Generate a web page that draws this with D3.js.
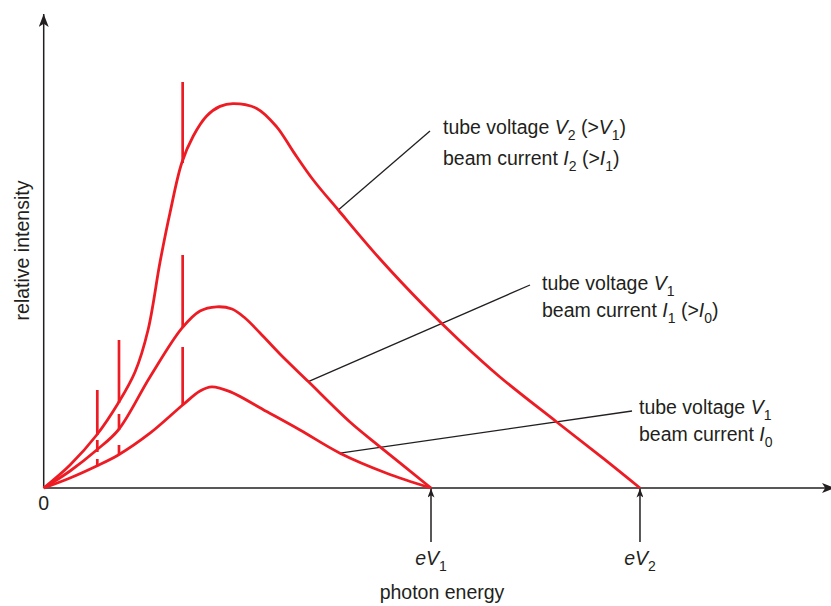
<!DOCTYPE html>
<html>
<head>
<meta charset="utf-8">
<script src="https://cdn.jsdelivr.net/npm/d3@7"></script>
<style>
  body { margin: 0; background: #fff; }
  svg { display: block; }
</style>
</head>
<body>
<div id="chart"></div>
<script>
// photon energy (arbitrary units, eV1 = 50) and relative intensity (0-100)
const highEnergy = [0, 3.4, 6.84, 9.63, 11.79, 13.47, 15.02, 16.3, 17.82, 19.31, 21.04, 22.76, 24.44, 27.5, 30.08, 32.22, 34.8, 38.03, 43.42, 49.0, 53.74, 58.9, 66.23, 72.24, 76.98];
const highIntensity = [0, 5.75, 13.25, 21.25, 29, 39.5, 56.5, 68.75, 81.25, 88, 93, 95.4, 96.1, 94.9, 90.3, 84.1, 77, 69.5, 57.25, 45.75, 36.75, 27.75, 16.5, 7.4, 0];

const midEnergy = [0, 3.4, 6.84, 9.63, 13.72, 17.82, 20.18, 22.33, 24.31, 25.99, 27.93, 30.5, 34.16, 39.54, 43.42, 50];
const midIntensity = [0, 4.25, 9.5, 14.5, 27.75, 39.9, 44.25, 45.3, 44.75, 42.5, 38.75, 33.5, 26.6, 16.5, 10.3, 0];

const lowEnergy = [0, 3.4, 6.84, 9.63, 13.72, 17.94, 20.18, 21.69, 24.05, 28.79, 33.09, 38.25, 44.28, 50];
const lowIntensity = [0, 2.5, 5.5, 8.25, 13.7, 20.75, 24.25, 25.3, 24.1, 19.1, 14.5, 8.7, 3.7, 0];

// characteristic lines: energy, foot (on curve) and tip intensity
const lineEnergy = [6.92, 9.72, 17.94];
const highLineFoot = [13.25, 21.25, 81.25];
const highLineTip = [24.5, 37, 101.5];
const midLineFoot = [9, 14.5, 40];
const midLineTip = [12, 18.5, 58.25];
const lowLineFoot = [5.5, 8.25, 20.75];
const lowLineTip = [7.25, 10.75, 35.25];

// cut-off energies
const cutoffNames = [[["e", "i"], ["V", "i"], ["1", "s"]], [["e", "i"], ["V", "i"], ["2", "s"]]];
const cutoffEnergy = [50, 76.98];

// annotation texts
const highLabel = [
  [["tube voltage "], ["V", "i"], ["2", "s"], [" (>"], ["V", "i"], ["1", "s"], [")"]],
  [["beam current "], ["I", "i"], ["2", "s"], [" (>"], ["I", "i"], ["1", "s"], [")"]]
];
const midLabel = [
  [["tube voltage "], ["V", "i"], ["1", "s"]],
  [["beam current "], ["I", "i"], ["1", "s"], [" (>"], ["I", "i"], ["0", "s"], [")"]]
];
const lowLabel = [
  [["tube voltage "], ["V", "i"], ["1", "s"]],
  [["beam current "], ["I", "i"], ["0", "s"]]
];

const width = 831;
const height = 606;
const red = "#ed1c24";
const ink = "#231f20";
const font = "'Liberation Sans', Arial, sans-serif";

const svg = d3.create("svg")
  .attr("width", width)
  .attr("height", height)
  .attr("viewBox", [0, 0, width, height]);

d3.select("#chart").append(() => svg.node());

const x = d3.scaleLinear().domain([0, 100]).range([43.7, 818.3]);
const y = d3.scaleLinear().domain([0, 100]).range([488, 88]);

// arrow heads
const defs = svg.append("defs");
function arrow(id, len, w) {
  defs.append("marker")
    .attr("id", id)
    .attr("viewBox", `0 0 ${len} ${w}`)
    .attr("refX", len).attr("refY", w / 2)
    .attr("markerUnits", "userSpaceOnUse")
    .attr("markerWidth", len).attr("markerHeight", w)
    .attr("orient", "auto")
    .append("path")
    .attr("d", `M0,0L${len},${w / 2}L0,${w}L${len * 0.25},${w / 2}Z`)
    .attr("fill", ink);
}
arrow("big", 13, 10);
arrow("small", 9, 7);

// axes
svg.append("line")
  .attr("x1", x(0)).attr("y1", y(0))
  .attr("x2", x(0)).attr("y2", 14)
  .attr("stroke", ink).attr("stroke-width", 1.5)
  .attr("marker-end", "url(#big)");
svg.append("line")
  .attr("x1", x(0)).attr("y1", y(0))
  .attr("x2", 835).attr("y2", y(0))
  .attr("stroke", ink).attr("stroke-width", 1.5)
  .attr("marker-end", "url(#big)");

// rich text helper (italic + subscripts)
function rich(text, parts) {
  let shifted = false;
  parts.forEach(([t, k]) => {
    const ts = text.append("tspan").text(t);
    if (k === "i") ts.attr("font-style", "italic");
    if (k === "s") {
      ts.attr("font-size", 14);
      if (!shifted) ts.attr("dy", 5.5);
      shifted = true;
    } else if (shifted) {
      ts.attr("dy", -5.5);
      shifted = false;
    }
  });
}

// cut-off arrows and names
cutoffEnergy.forEach((e, i) => {
  svg.append("line")
    .attr("x1", x(e)).attr("y1", 542)
    .attr("x2", x(e)).attr("y2", y(0) + 0.5)
    .attr("stroke", ink).attr("stroke-width", 1.5)
    .attr("marker-end", "url(#small)");
  const t = svg.append("text")
    .attr("x", x(e)).attr("y", 565)
    .attr("text-anchor", "middle")
    .attr("font-family", font).attr("font-size", 19.5).attr("fill", ink);
  rich(t, cutoffNames[i]);
});

svg.append("text")
  .attr("x", x(0)).attr("y", 510)
  .attr("text-anchor", "middle")
  .attr("font-family", font).attr("font-size", 19.5).attr("fill", ink)
  .text("0");

svg.append("text")
  .attr("x", 442).attr("y", 599)
  .attr("text-anchor", "middle")
  .attr("font-family", font).attr("font-size", 19.5).attr("fill", ink)
  .text("photon energy");

svg.append("text")
  .attr("transform", "translate(28.5,250.5) rotate(-90)")
  .attr("text-anchor", "middle")
  .attr("font-family", font).attr("font-size", 19.5).attr("fill", ink)
  .text("relative intensity");

// leader lines + labels
const notes = [
  { from: [38.03, 69.5], to: [49.87, 89.25], at: [51.55, 88.5], gap: 31, lines: highLabel },
  { from: [34.16, 26.6], to: [62.78, 50.75], at: [64.33, 49.5], gap: 27, lines: midLabel },
  { from: [38.25, 8.7], to: [75.95, 19.25], at: [76.85, 18.5], gap: 27, lines: lowLabel }
];
notes.forEach(n => {
  svg.append("line")
    .attr("x1", x(n.from[0])).attr("y1", y(n.from[1]))
    .attr("x2", x(n.to[0])).attr("y2", y(n.to[1]))
    .attr("stroke", ink).attr("stroke-width", 1.3);
  n.lines.forEach((parts, j) => {
    const t = svg.append("text")
      .attr("x", x(n.at[0])).attr("y", y(n.at[1]) + j * n.gap)
      .attr("font-family", font).attr("font-size", 19.5).attr("fill", ink);
    rich(t, parts);
  });
});

// spectra
const line = d3.line()
  .x(d => x(d[0]))
  .y(d => y(d[1]))
  .curve(d3.curveCatmullRom.alpha(0.5));

const spectra = [
  [highEnergy, highIntensity, highLineFoot, highLineTip],
  [midEnergy, midIntensity, midLineFoot, midLineTip],
  [lowEnergy, lowIntensity, lowLineFoot, lowLineTip]
];

spectra.forEach(([es, is, foot, tip]) => {
  svg.append("path")
    .attr("fill", "none")
    .attr("stroke", red)
    .attr("stroke-width", 2.8)
    .attr("stroke-linejoin", "round")
    .attr("d", line(es.map((e, i) => [e, is[i]])));
  svg.append("g")
    .selectAll("line")
    .data(lineEnergy)
    .join("line")
    .attr("x1", d => x(d)).attr("x2", d => x(d))
    .attr("y1", (d, i) => y(foot[i]))
    .attr("y2", (d, i) => y(tip[i]))
    .attr("stroke", red)
    .attr("stroke-width", 2.7);
});
</script>
</body>
</html>
